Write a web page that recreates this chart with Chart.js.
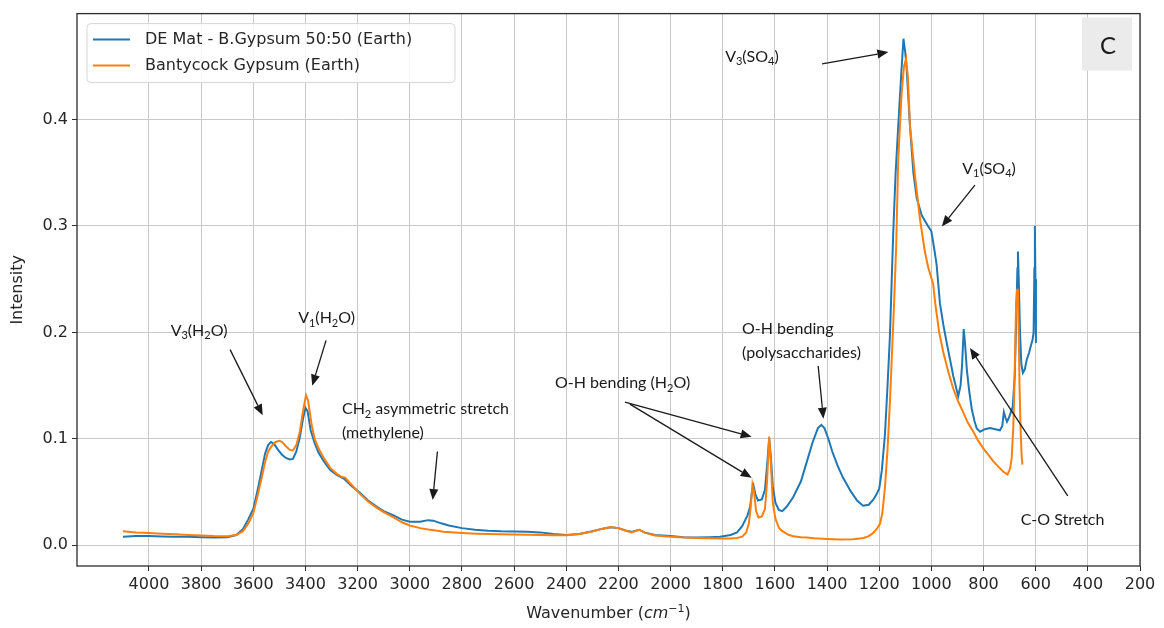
<!DOCTYPE html>
<html>
<head>
<meta charset="utf-8">
<script src="https://cdn.jsdelivr.net/npm/chart.js@4.4.1/dist/chart.umd.min.js"></script>
<style>
  html, body { margin: 0; padding: 0; background: #fff; }
  #wrap { width: 1164px; height: 628px; }
</style>
</head>
<body>
<div id="wrap"><canvas id="spec" width="1164" height="628"></canvas></div>
<script>
// IR 光譜：DE Mat 混合樣品 vs Bantycock 石膏

const seriesNames = ['DE Mat - B.Gypsum 50:50 (Earth)', 'Bantycock Gypsum (Earth)'];
const seriesColors = ['#1f77b4', '#ff7f0e'];

// 軸刻度
const xTicks = [4000, 3800, 3600, 3400, 3200, 3000, 2800, 2600, 2400, 2200, 2000, 1800, 1600, 1400, 1200, 1000, 800, 600, 400, 200];
const yTicks = [0.0, 0.1, 0.2, 0.3, 0.4];

// DE Mat - B.Gypsum 50:50
const blueWn = [4100, 4050, 4000, 3950, 3900, 3850, 3800, 3750, 3700, 3665, 3640, 3620, 3600, 3585, 3568, 3555, 3543, 3532, 3520, 3505,
  3490, 3475, 3460, 3448, 3435, 3422, 3410, 3400, 3392, 3380, 3365, 3350, 3330, 3305, 3280, 3250, 3220, 3190, 3160, 3126,
  3100, 3062, 3030, 3000, 2960, 2930, 2910, 2880, 2850, 2800, 2750, 2700, 2650, 2600, 2550, 2500, 2450, 2400, 2350, 2300,
  2260, 2230, 2200, 2170, 2150, 2120, 2100, 2060, 2000, 1950, 1900, 1850, 1810, 1770, 1745, 1725, 1705, 1695, 1687, 1682,
  1675, 1665, 1650, 1638, 1630, 1622, 1616, 1608, 1598, 1585, 1572, 1555, 1530, 1500, 1478, 1455, 1435, 1422, 1410, 1395,
  1380, 1360, 1340, 1310, 1285, 1262, 1240, 1222, 1210, 1200, 1190, 1178, 1168, 1159, 1146, 1137, 1127, 1115, 1107, 1100,
  1095, 1082, 1069, 1056, 1037, 1012, 1000, 990, 980, 967, 954, 941, 928, 916, 905, 897, 888, 882, 876, 871,
  864, 855, 845, 835, 826, 813, 795, 775, 755, 737, 728, 722, 716, 710, 704, 695, 688, 680, 674, 670,
  668, 665, 660, 655, 649, 642, 634, 625, 619, 612, 608, 605, 603, 601, 599];
const blueInt = [0.008, 0.0085, 0.0085, 0.0082, 0.008, 0.0078, 0.0075, 0.0072, 0.0075, 0.0095, 0.015, 0.024, 0.034, 0.05, 0.07, 0.086, 0.094, 0.097, 0.095, 0.0895,
  0.085, 0.082, 0.0805, 0.081, 0.088, 0.101, 0.118, 0.129, 0.126, 0.108, 0.096, 0.087, 0.079, 0.0705, 0.066, 0.062, 0.055, 0.049, 0.042, 0.036,
  0.032, 0.028, 0.024, 0.022, 0.022, 0.0235, 0.023, 0.0205, 0.0185, 0.016, 0.0145, 0.0135, 0.013, 0.0128, 0.0125, 0.012, 0.0105, 0.0095, 0.0105, 0.013,
  0.0155, 0.0168, 0.016, 0.0135, 0.0125, 0.0145, 0.012, 0.0095, 0.0085, 0.0075, 0.0072, 0.0075, 0.0078, 0.0095, 0.012, 0.018, 0.028, 0.036, 0.052, 0.056,
  0.048, 0.042, 0.043, 0.052, 0.075, 0.1, 0.085, 0.055, 0.04, 0.033, 0.032, 0.036, 0.045, 0.06, 0.078, 0.097, 0.11, 0.113, 0.11, 0.1,
  0.088, 0.075, 0.064, 0.051, 0.042, 0.037, 0.038, 0.043, 0.048, 0.053, 0.07, 0.104, 0.15, 0.196, 0.295, 0.35, 0.394, 0.445, 0.476, 0.463,
  0.449, 0.394, 0.35, 0.326, 0.31, 0.2996, 0.295, 0.28, 0.264, 0.227, 0.207, 0.19, 0.174, 0.159, 0.148, 0.14, 0.15, 0.17, 0.203, 0.19,
  0.165, 0.145, 0.128, 0.117, 0.1096, 0.1066, 0.109, 0.11, 0.109, 0.108, 0.112, 0.125, 0.12, 0.116, 0.119, 0.125, 0.13, 0.16, 0.22, 0.26,
  0.276, 0.25, 0.2, 0.17, 0.162, 0.165, 0.1745, 0.181, 0.187, 0.193, 0.2, 0.26, 0.30, 0.25, 0.19];

// Bantycock Gypsum
const orangeWn = [4100, 4050, 4000, 3950, 3900, 3850, 3800, 3750, 3700, 3665, 3640, 3620, 3600, 3585, 3568, 3555, 3543, 3530, 3515, 3500,
  3490, 3475, 3460, 3448, 3435, 3422, 3410, 3398, 3390, 3376, 3365, 3350, 3330, 3305, 3280, 3260, 3248, 3235, 3220, 3190,
  3160, 3126, 3100, 3062, 3030, 3000, 2960, 2930, 2900, 2871, 2800, 2743, 2700, 2650, 2600, 2550, 2500, 2450, 2400, 2350,
  2300, 2260, 2230, 2200, 2170, 2150, 2120, 2100, 2060, 2000, 1950, 1900, 1850, 1810, 1770, 1745, 1725, 1710, 1700, 1693,
  1686, 1680, 1672, 1663, 1650, 1638, 1630, 1622, 1616, 1608, 1598, 1585, 1575, 1550, 1530, 1500, 1478, 1450, 1400, 1350,
  1300, 1260, 1240, 1225, 1210, 1197, 1188, 1178, 1168, 1159, 1143, 1135, 1127, 1114, 1105, 1097, 1090, 1082, 1063, 1044,
  1025, 1012, 993, 985, 970, 954, 935, 916, 897, 878, 860, 839, 820, 801, 782, 763, 744, 724, 708, 698,
  692, 686, 683, 679, 675, 671, 668, 665, 662, 658, 654, 651];
const orangeInt = [0.013, 0.012, 0.0115, 0.0108, 0.0102, 0.0095, 0.009, 0.0085, 0.0083, 0.0095, 0.013, 0.02, 0.03, 0.045, 0.063, 0.078, 0.088, 0.093, 0.097, 0.098,
  0.097, 0.093, 0.0895, 0.089, 0.094, 0.106, 0.125, 0.141, 0.136, 0.1127, 0.1, 0.091, 0.082, 0.0726, 0.067, 0.064, 0.0635, 0.06, 0.056, 0.048,
  0.041, 0.035, 0.031, 0.026, 0.0215, 0.0185, 0.016, 0.0148, 0.0138, 0.0125, 0.0115, 0.0108, 0.0105, 0.0102, 0.01, 0.0098, 0.0095, 0.0092, 0.0092, 0.0105,
  0.0128, 0.0155, 0.017, 0.016, 0.0135, 0.012, 0.0145, 0.0118, 0.009, 0.008, 0.0072, 0.0068, 0.0065, 0.0063, 0.0063, 0.0068, 0.008, 0.012, 0.02, 0.035,
  0.057, 0.05, 0.032, 0.026, 0.027, 0.034, 0.06, 0.102, 0.08, 0.04, 0.025, 0.0165, 0.0139, 0.01, 0.0083, 0.0075, 0.0071, 0.0065, 0.0058, 0.0053,
  0.0055, 0.0068, 0.0085, 0.011, 0.015, 0.02, 0.03, 0.054, 0.09, 0.134, 0.227, 0.28, 0.363, 0.425, 0.45, 0.457, 0.44, 0.394, 0.3475, 0.307,
  0.276, 0.261, 0.2456, 0.227, 0.2, 0.181, 0.163, 0.147, 0.135, 0.125, 0.115, 0.1066, 0.098, 0.091, 0.085, 0.079, 0.074, 0.069, 0.0664, 0.072,
  0.082, 0.11, 0.134, 0.18, 0.227, 0.24, 0.241, 0.2, 0.15, 0.11, 0.085, 0.0757];

// 標註（資料座標）：文字位置、箭頭起點與終點
const notes = [
  { lines: ['V_{3}(H_{2}O)'], at: [3808, 0.202], align: 'center', arrows: [[3689, 0.1838, 3564, 0.1221]] },
  { lines: ['V_{1}(H_{2}O)'], at: [3319, 0.2136], align: 'center', arrows: [[3321, 0.1925, 3374, 0.1499]] },
  { lines: ['CH_{2} asymmetric stretch', '(methylene)'], at: [3260, 0.1282], align: 'left', arrows: [[2894, 0.088, 2912, 0.0424]] },
  { lines: ['O-H bending (H_{2}O)'], at: [2184, 0.1525], align: 'center', arrows: [[2175, 0.1344, 1689, 0.1019], [2156, 0.1325, 1689, 0.0633]] },
  { lines: ['O-H bending', '(polysaccharides)'], at: [1726, 0.2039], align: 'left', arrows: [[1434, 0.1684, 1414, 0.1189]] },
  { lines: ['V_{3}(SO_{4})'], at: [1688, 0.4597], align: 'center', arrows: [[1419, 0.4523, 1165, 0.4634]] },
  { lines: ['V_{1}(SO_{4})'], at: [779, 0.3545], align: 'center', arrows: [[833, 0.3383, 960, 0.2996]] },
  { lines: ['C-O Stretch'], at: [497, 0.0246], align: 'center', arrows: [[477, 0.0463, 852, 0.1853]] }
];
const panelLetter = 'C';

const TICK_FONT = 'DejaVu Sans';
const NOTE_FONT = 'Lato';

// 簡易 rich text：_{..} 下標、^{..} 上標、*..* 斜體
function parseRich(s) {
  const out = [];
  const re = /(_\{[^}]*\}|\^\{[^}]*\}|\*[^*]*\*)/g;
  let last = 0, m;
  while ((m = re.exec(s))) {
    if (m.index > last) out.push({ t: s.slice(last, m.index), k: 'n' });
    const tok = m[0];
    if (tok[0] === '_') out.push({ t: tok.slice(2, -1), k: 'sub' });
    else if (tok[0] === '^') out.push({ t: tok.slice(2, -1), k: 'sup' });
    else out.push({ t: tok.slice(1, -1), k: 'it' });
    last = re.lastIndex;
  }
  if (last < s.length) out.push({ t: s.slice(last), k: 'n' });
  return out;
}

function segFont(seg, size, family) {
  const sz = (seg.k === 'sub' || seg.k === 'sup') ? Math.round(size * 0.68) : size;
  return (seg.k === 'it' ? 'italic ' : '') + sz + 'px "' + family + '"';
}

function drawRich(ctx, s, x, y, size, family, align) {
  const segs = parseRich(s);
  let w = 0;
  for (const seg of segs) { ctx.font = segFont(seg, size, family); w += ctx.measureText(seg.t).width; }
  let cx = align === 'center' ? x - w / 2 : (align === 'right' ? x - w : x);
  ctx.textAlign = 'left';
  ctx.textBaseline = 'alphabetic';
  const base = y + size * 0.35;
  for (const seg of segs) {
    ctx.font = segFont(seg, size, family);
    let dy = 0;
    if (seg.k === 'sub') dy = size * 0.22;
    if (seg.k === 'sup') dy = -size * 0.38;
    ctx.fillText(seg.t, cx, base + dy);
    cx += ctx.measureText(seg.t).width;
  }
}

function arrow(ctx, x1, y1, x2, y2) {
  const ang = Math.atan2(y2 - y1, x2 - x1);
  const hl = 11, hw = 4.5;
  const bx = x2 - hl * Math.cos(ang), by = y2 - hl * Math.sin(ang);
  ctx.beginPath();
  ctx.moveTo(x1, y1);
  ctx.lineTo(bx, by);
  ctx.stroke();
  ctx.beginPath();
  ctx.moveTo(x2, y2);
  ctx.lineTo(bx + hw * Math.sin(ang), by - hw * Math.cos(ang));
  ctx.lineTo(bx - hw * Math.sin(ang), by + hw * Math.cos(ang));
  ctx.closePath();
  ctx.fill();
}

const decor = {
  id: 'decor',
  afterDraw(chart) {
    const { ctx, chartArea: a, scales: { x, y } } = chart;
    ctx.save();

    // 外框
    ctx.strokeStyle = '#2b2b2b';
    ctx.lineWidth = 1.3;
    ctx.strokeRect(a.left, a.top, a.right - a.left, a.bottom - a.top);

    // 標註
    ctx.fillStyle = '#1a1a1a';
    ctx.strokeStyle = '#1a1a1a';
    ctx.lineWidth = 1.3;
    for (const n of notes) {
      const px = x.getPixelForValue(n.at[0]);
      const py = y.getPixelForValue(n.at[1]);
      n.lines.forEach((ln, i) => drawRich(ctx, ln, px, py + i * 24, 16, NOTE_FONT, n.align));
      for (const ar of n.arrows) {
        arrow(ctx, x.getPixelForValue(ar[0]), y.getPixelForValue(ar[1]), x.getPixelForValue(ar[2]), y.getPixelForValue(ar[3]));
      }
    }

    // 面板字母
    ctx.fillStyle = '#ebebeb';
    ctx.fillRect(a.right - 58, a.top + 4, 50, 53);
    ctx.fillStyle = '#1a1a1a';
    ctx.font = '24px "' + NOTE_FONT + '"';
    ctx.textAlign = 'center';
    ctx.textBaseline = 'middle';
    ctx.fillText(panelLetter, a.right - 32, a.top + 33);

    // 圖例
    const lx = a.left + 10, ly = a.top + 10, lw = 368, lh = 59;
    ctx.fillStyle = 'rgba(255,255,255,0.85)';
    ctx.strokeStyle = '#d6d6d6';
    ctx.lineWidth = 1;
    ctx.beginPath();
    ctx.roundRect(lx, ly, lw, lh, 4);
    ctx.fill();
    ctx.stroke();
    chart.data.datasets.forEach((ds, i) => {
      const yy = ly + 16 + i * 26;
      ctx.strokeStyle = ds.borderColor;
      ctx.lineWidth = 2;
      ctx.beginPath();
      ctx.moveTo(lx + 6, yy);
      ctx.lineTo(lx + 43, yy);
      ctx.stroke();
      ctx.fillStyle = '#262626';
      ctx.font = '16px "' + TICK_FONT + '"';
      ctx.textAlign = 'left';
      ctx.textBaseline = 'middle';
      ctx.fillText(ds.label, lx + 58, yy);
    });

    // 軸標題
    ctx.fillStyle = '#262626';
    drawRich(ctx, 'Wavenumber (*cm*^{−1})', (a.left + a.right) / 2, 612, 16, TICK_FONT, 'center');
    ctx.save();
    ctx.translate(18, (a.top + a.bottom) / 2);
    ctx.rotate(-Math.PI / 2);
    ctx.font = '16px "' + TICK_FONT + '"';
    ctx.textAlign = 'center';
    ctx.textBaseline = 'middle';
    ctx.fillText('Intensity', 0, 0);
    ctx.restore();

    ctx.restore();
  }
};

const toPts = (xs, ys) => xs.map((v, i) => ({ x: v, y: ys[i] }));

new Chart(document.getElementById('spec').getContext('2d'), {
  type: 'scatter',
  data: {
    datasets: [
      { label: seriesNames[0], data: toPts(blueWn, blueInt), showLine: true, borderColor: seriesColors[0], borderWidth: 2, pointRadius: 0, tension: 0, order: 1 },
      { label: seriesNames[1], data: toPts(orangeWn, orangeInt), showLine: true, borderColor: seriesColors[1], borderWidth: 2, pointRadius: 0, tension: 0, order: 0 }
    ]
  },
  options: {
    responsive: false,
    animation: false,
    devicePixelRatio: 1,
    layout: { padding: { left: 0, right: 24, top: 6, bottom: 0 } },
    plugins: { legend: { display: false }, tooltip: { enabled: false } },
    scales: {
      x: {
        type: 'linear', reverse: true, min: 200, max: 4276,
        afterBuildTicks: s => { s.ticks = xTicks.map(v => ({ value: v })); },
        afterFit: s => { s.height = 62; },
        ticks: { autoSkip: false, maxRotation: 0, padding: 4, color: '#262626', font: { family: TICK_FONT, size: 16 }, callback: v => String(v) },
        grid: { color: '#c9c9c9', lineWidth: 1, tickLength: 5, tickColor: '#2b2b2b', tickWidth: 1 },
        border: { display: false }
      },
      y: {
        type: 'linear', min: -0.0196, max: 0.4996,
        afterBuildTicks: s => { s.ticks = yTicks.map(v => ({ value: v })); },
        afterFit: s => { s.width = 77; },
        ticks: { padding: 4, color: '#262626', font: { family: TICK_FONT, size: 16 }, callback: v => v.toFixed(1) },
        grid: { color: '#c9c9c9', lineWidth: 1, tickLength: 5, tickColor: '#2b2b2b', tickWidth: 1 },
        border: { display: false }
      }
    }
  },
  plugins: [decor]
});
</script>
</body>
</html>
